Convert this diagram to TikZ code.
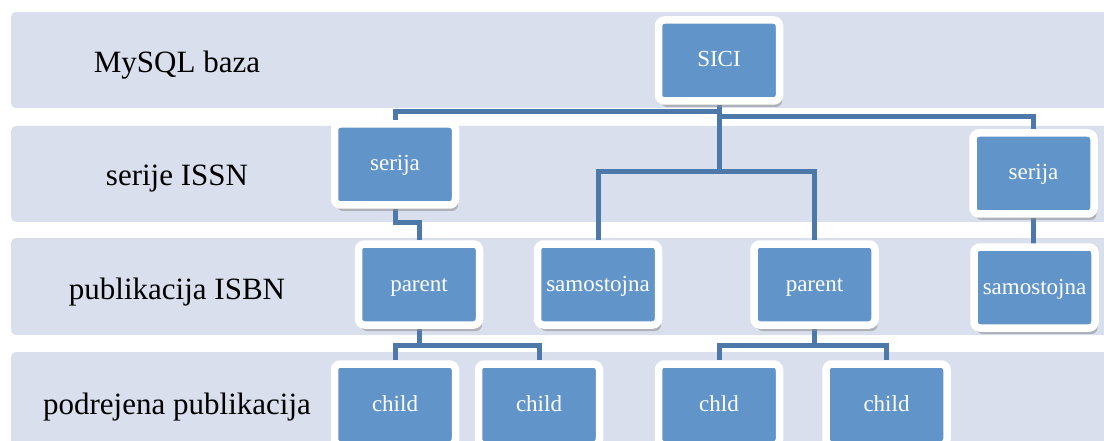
\documentclass[tikz,border=0pt]{standalone}
\usepackage{fontspec}
\setmainfont{Liberation Serif}
\usetikzlibrary{shadows}
\tikzset{% change default arrow tips
    >=latex
}
\pgfdeclarelayer{bands}
\pgfdeclarelayer{links}
\pgfsetlayers{bands,links,main}
\definecolor{bandcol}{RGB}{217,223,236}
\definecolor{boxcol}{RGB}{97,148,200}
\definecolor{linkcol}{RGB}{76,121,170}
\tikzset{
    band/.style={fill=bandcol, rounded corners=5pt},
    level/.style={font=\fontsize{31}{36}\selectfont, text=black, anchor=base},
    unit/.style={draw=white, line width=7.5pt, fill=boxcol, rounded corners=6pt,
        minimum width=121pt, minimum height=81pt, inner sep=0pt,
        text height=18pt, text depth=5pt,
        text=white, font=\fontsize{23}{27}\selectfont,
        drop shadow={shadow xshift=2.5pt, shadow yshift=-6pt, fill=black!45, opacity=.55}},
    link/.style={draw=linkcol, line width=5pt}
}

\begin{document}
\begin{tikzpicture}[x=1pt,y=-1pt]
    		\useasboundingbox (0,0) rectangle (1104,441);
    		\newcommand{\lblx}{177}
    	
    		% levels
    		\begin{pgfonlayer}{bands}
    		\fill[band] (11,12) rectangle (1120,108);
    		\fill[band] (11,126) rectangle (1120,222);
    		\fill[band] (11,238) rectangle (1120,335);
    		\fill[band] (11,352) rectangle (1120,470);
    		\end{pgfonlayer}
    	
    		\node[level] (lbldb) at (\lblx,72.5) {MySQL baza};
    		\node[level] (lblissn) at (\lblx,185.5) {serije ISSN};
    		\node[level] (lblisbn) at (\lblx,299.5) {publikacija ISBN};
    		\node[level] (lblsub) at (\lblx,414) {podrejena publikacija};
    	
    		% boxes
    		\node[unit] (sici) at (719,60.5) {SICI};
    		\node[unit] (serijaA) at (395,164.5) {serija};
    		\node[unit] (serijaB) at (1033.5,173.5) {serija};
    		\node[unit] (parentA) at (419,284.5) {parent};
    		\node[unit] (samoA) at (598,284.5) {samostojna};
    		\node[unit] (parentB) at (814.5,284.5) {parent};
    		\node[unit] (samoB) at (1034.5,287.5) {samostojna};
    		\node[unit] (childA) at (395,404.5) {child};
    		\node[unit] (childB) at (539,404.5) {child};
    		\node[unit] (childC) at (719,404.5) {chld};
    		\node[unit] (childD) at (886.5,404.5) {child};
    	
    		% bus levels
    		\coordinate (busA) at (0,112);
    		\coordinate (busB) at (0,117);
    		\coordinate (busC) at (0,172);
    		\coordinate (elbow) at (0,223);
    		\coordinate (kidbus) at (0,345);
    	
    		% links
    		\begin{pgfonlayer}{links}
    		\draw[link] (sici) -- (sici |- busC);
    		\draw[link] (sici |- busA) -| (serijaA);
    		\draw[link] (sici |- busB) -| (serijaB);
    		\draw[link] (samoA) |- (sici |- busC) -| (parentB);
    		\draw[link] (serijaA) -- (serijaA |- elbow) -| (parentA);
    		\draw[link] (serijaB) -- (serijaB |- samoB);
    		\draw[link] (parentA) -- (parentA |- kidbus);
    		\draw[link] (childA) |- (parentA |- kidbus) -| (childB);
    		\draw[link] (parentB) -- (parentB |- kidbus);
    		\draw[link] (childC) |- (parentB |- kidbus) -| (childD);
    		\end{pgfonlayer}
    	
		\end{tikzpicture}
\end{document}
